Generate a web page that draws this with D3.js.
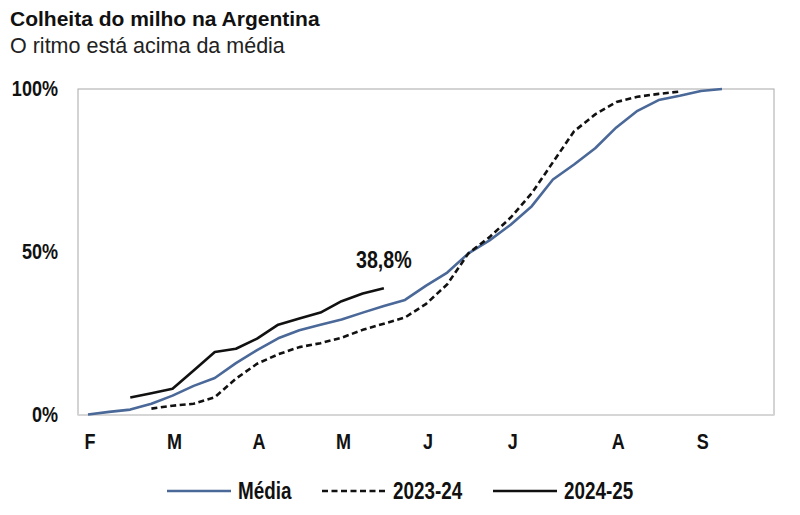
<!DOCTYPE html>
<html>
<head>
<meta charset="utf-8">
<script src="https://cdn.jsdelivr.net/npm/d3@7"></script>
<style>
  body { margin: 0; background: #fff; }
  svg { display: block; }
  .title { font-family: "Liberation Sans", Arial, sans-serif; font-weight: bold; font-size: 21px; fill: #111; }
  .subtitle { font-family: "Liberation Sans", Arial, sans-serif; font-size: 21.5px; fill: #222; }
  .lbl { font-family: "Liberation Sans", Arial, sans-serif; font-weight: bold; fill: #111; }
</style>
</head>
<body>
<svg id="chart" width="800" height="515"></svg>
<script>
// semanas a partir do início de fevereiro
let monthLabels = ['F', 'M', 'A', 'M', 'J', 'J', 'A', 'S'];
let monthWeeks = [0, 4, 8, 12, 16, 20, 25, 29];
let yTicks = [0, 50, 100];

// Média (semana 0 a 30)
let media = [0, 0.8, 1.5, 3.3, 5.8, 8.8, 11.2, 15.8, 19.8, 23.4, 25.9, 27.6, 29.2, 31.3, 33.3, 35.2,
  39.6, 43.6, 49.5, 53.5, 58.3, 64, 72.2, 76.8, 81.8, 88.2, 93.3, 96.6, 97.9, 99.4, 100];
// 2023-24 (semana 3 a 28)
let start2324 = 3;
let safra2324 = [1.8, 2.7, 3.3, 5.3, 11, 15.6, 18.5, 20.7, 21.9, 23.6, 26, 27.9, 29.8,
  34, 40, 49.5, 54.5, 60.5, 68, 77.5, 87, 92.2, 96, 97.6, 98.5, 99.2];
// 2024-25 (semana 2 a 14)
let start2425 = 2;
let safra2425 = [5.2, 6.5, 7.9, 13.5, 19.2, 20.2, 23.3, 27.6, 29.5, 31.3, 34.8, 37.2, 38.8];

let series = [
  { name: 'Média', start: 0, values: media, color: '#4a6898', dash: null },
  { name: '2023-24', start: start2324, values: safra2324, color: '#111', dash: '6,3.5' },
  { name: '2024-25', start: start2425, values: safra2425, color: '#111', dash: null }
];

let svg = d3.select('#chart');
let box = { left: 78, right: 774, top: 89, bottom: 415 };
let narrow = 0.82; // imita Arial Narrow

let x = d3.scaleLinear().domain([0, 30]).range([88, 722]);
let y = d3.scaleLinear().domain([0, 100]).range([414.5, 89]);

svg.append('text').attr('class', 'title').attr('x', 10).attr('y', 26).text('Colheita do milho na Argentina');
svg.append('text').attr('class', 'subtitle').attr('x', 10).attr('y', 53).text('O ritmo está acima da média');

// moldura
svg.append('rect')
  .attr('x', box.left).attr('y', box.top)
  .attr('width', box.right - box.left).attr('height', box.bottom - box.top)
  .attr('fill', 'none').attr('stroke', '#a8a8a8').attr('stroke-width', 1);
svg.append('line')
  .attr('x1', box.left).attr('x2', box.right).attr('y1', box.bottom).attr('y2', box.bottom)
  .attr('stroke', '#d6d6d6').attr('stroke-width', 2);

// eixo y
svg.append('g').selectAll('text')
  .data(yTicks)
  .enter().append('text')
  .attr('class', 'lbl')
  .style('font-size', '22px')
  .attr('transform', d => `translate(58,${y(d) + 7}) scale(${narrow},1)`)
  .attr('text-anchor', 'end')
  .text(d => d + '%');

// eixo x
svg.append('g').selectAll('text')
  .data(monthLabels)
  .enter().append('text')
  .attr('class', 'lbl')
  .style('font-size', '22px')
  .attr('transform', (d, i) => `translate(${x(monthWeeks[i]) + 2},449) scale(${narrow},1)`)
  .attr('text-anchor', 'middle')
  .text(d => d);

let line = d3.line()
  .x(d => x(d.w))
  .y(d => y(d.v));

svg.append('g').selectAll('path')
  .data(series)
  .enter().append('path')
  .attr('d', s => line(s.values.map((v, i) => ({ w: s.start + i, v: v }))))
  .attr('fill', 'none')
  .attr('stroke', s => s.color)
  .attr('stroke-width', 2.6)
  .attr('stroke-linejoin', 'round')
  .attr('stroke-dasharray', s => s.dash);

// rótulo do último valor
let lastWeek = start2425 + safra2425.length - 1;
let lastVal = safra2425[safra2425.length - 1];
svg.append('text')
  .attr('class', 'lbl')
  .style('font-size', '24px')
  .attr('transform', `translate(${x(lastWeek)},${y(lastVal) - 20}) scale(${narrow},1)`)
  .attr('text-anchor', 'middle')
  .text(d3.format('.1f')(lastVal).replace('.', ',') + '%');

// legenda
let legendX = [167, 322, 493];
let legend = svg.append('g').selectAll('g')
  .data(series)
  .enter().append('g')
  .attr('transform', (d, i) => `translate(${legendX[i]},491)`);
legend.append('line')
  .attr('x1', 0).attr('x2', 64).attr('y1', 0).attr('y2', 0)
  .attr('stroke', d => d.color)
  .attr('stroke-width', 2.6)
  .attr('stroke-dasharray', d => d.dash);
legend.append('text')
  .attr('class', 'lbl')
  .style('font-size', '23px')
  .attr('transform', `translate(71,8) scale(${narrow},1)`)
  .text(d => d.name);
</script>
</body>
</html>
